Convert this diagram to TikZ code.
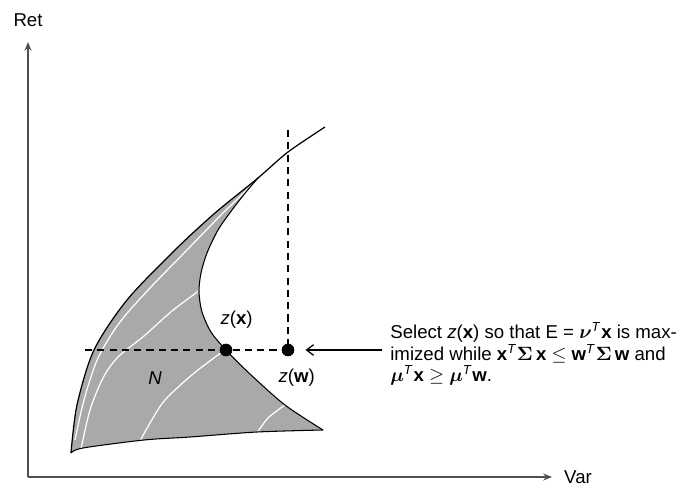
\documentclass[tikz,border=0pt]{standalone}
\definecolor{RegionGray}{HTML}{A8A9AB}
\definecolor{AxisGray}{HTML}{505050}
\usepackage{amsmath}
\usepackage{fontspec}
\setmainfont{Liberation Sans}
\usepackage{tikz}
\usetikzlibrary{arrows.meta}
\newcommand{\tp}{\textsuperscript{\textit{T}}}
\newcommand{\bx}{\textbf{x}}
\newcommand{\bw}{\textbf{w}}

\begin{document}
\begin{tikzpicture}[x=0.02cm, y=-0.02cm, line join=round, every node/.style={font=\fontsize{10.6}{12.4}\selectfont}]
        \useasboundingbox (0,0) rectangle (694,488);

        % Axes
        \coordinate (origin) at (28,477);
        \draw[AxisGray, line width=0.8pt, -{Stealth[length=5pt, width=4pt]}] (origin) -- (28,42) coordinate (ytop);
        \draw[AxisGray, line width=0.8pt, -{Stealth[length=5pt, width=4pt]}] (origin) -- (552,477) coordinate (xend);
        \node[anchor=south] (ret) at (28,33) {Ret};
        \node[anchor=west] (var) at (558,477) {Var};

        % Shaded region
        \fill[RegionGray] plot[smooth] coordinates {(71,453) (77,405) (94,350) (127,300) (175,250) (215,213) (258,178)}
            -- plot[smooth] coordinates {(258,178) (246,192) (232,210) (218,230) (207,253) (201,273) (199,292) (202,312) (211,332) (226,350) (250,374) (285,405) (323,430)}
            -- plot[smooth] coordinates {(323,430) (257,432) (190,437) (144,440) (83,448) (71,453)} -- cycle;

        % White curves inside
        \draw[white, line width=0.7pt] plot[smooth] coordinates {(75,440) (84,400) (98,358) (120,322) (150,288) (187,250) (222,214) (254,183)};
        \draw[white, line width=0.7pt] plot[smooth] coordinates {(81,449) (90,410) (103,378) (118,357) (144,336) (172,311) (200,290)};
        \draw[white, line width=0.7pt] plot[smooth] coordinates {(140,441) (150,423) (165,400) (193,374) (222,352)};
        \draw[white, line width=0.7pt] plot[smooth] coordinates {(257,433) (268,418) (285,405)};

        % Boundary
        \draw[line width=0.7pt] plot[smooth] coordinates {(71,453) (77,405) (94,350) (127,300) (175,250) (215,213) (258,178) (288,152) (325,127)};
        \draw[line width=0.6pt] plot[smooth] coordinates {(258,178) (246,192) (232,210) (218,230) (207,253) (201,273) (199,292) (202,312) (211,332) (226,350) (250,374) (285,405) (323,430)};
        \draw[line width=0.6pt] plot[smooth] coordinates {(323,430) (257,432) (190,437) (144,440) (83,448) (71,453)};

        % Dashed guides
        \coordinate (zx) at (226,350);
        \coordinate (zw) at (288,350);
        \draw[dash pattern=on 4pt off 3pt, line width=0.6pt] (85,350) -- (zw);
        \draw[dash pattern=on 4pt off 3pt, line width=0.6pt] (288,130) -- (zw);

        % Points
        \filldraw (zx) circle (3.4pt) node[above=9pt, xshift=6pt] (zxlabel) {\textit{z}(\bx)};
        \filldraw (zw) circle (3.4pt) node[below=7pt, xshift=5pt] (zwlabel) {\textit{z}(\bw)};
        \node (nlabel) at (155,378) {\textit{N}};

        % Note
        \node[anchor=north west, inner sep=0pt, align=left] (sel) at (390,322) {Select \textit{z}(\bx) so that E = $\boldsymbol{\nu}$\tp\bx{} is max-\\imized while \bx\tp$\boldsymbol{\Sigma}$\,\bx{} $\leq$ \bw\tp$\boldsymbol{\Sigma}$\,\bw{} and\\$\boldsymbol{\mu}$\tp\bx{} $\geq$ $\boldsymbol{\mu}$\tp\bw.};
        \draw[line width=0.7pt, -{Straight Barb[length=4pt, width=6pt]}, shorten <=4.5pt, shorten >=10pt] (sel.west |- zw) -- (zw);
    \end{tikzpicture}
\end{document}
